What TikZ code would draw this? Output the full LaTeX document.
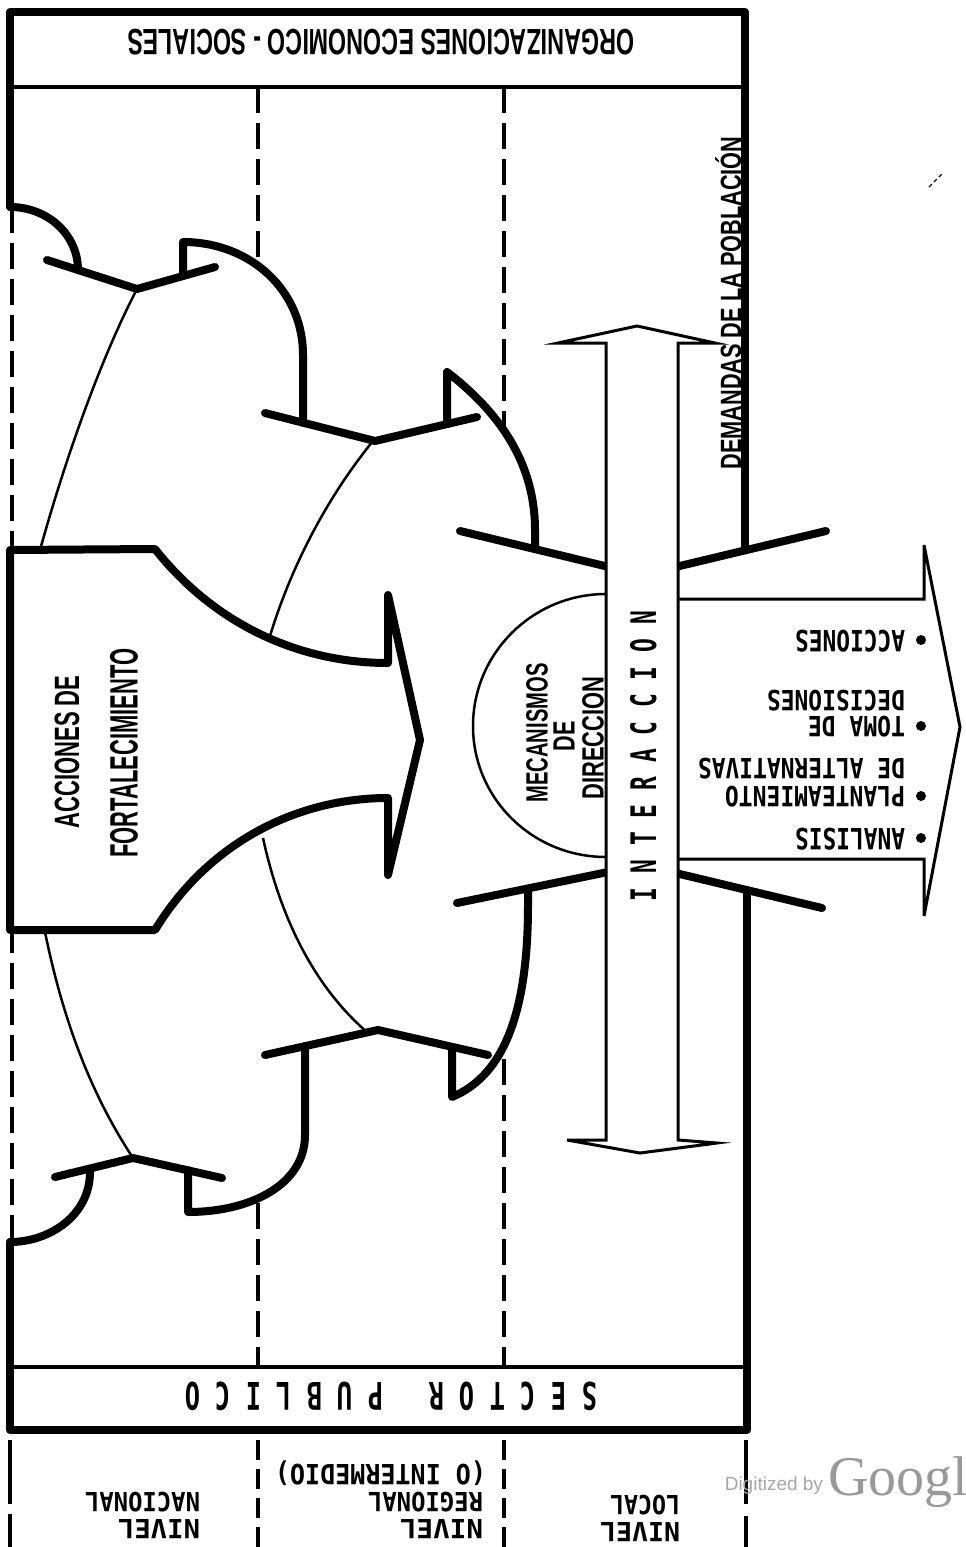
\documentclass[tikz,border=0pt]{standalone}
\usepackage{fontspec}
\usepackage{graphicx}
\newfontfamily\narrowsf{Liberation Sans}
\newfontfamily\typew{DejaVu Sans Mono}
\newfontfamily\wmsans{Liberation Sans}
\newfontfamily\wmserif{Liberation Serif}
% text box of given width and cap height
\newcommand{\capbox}[3]{\resizebox{#1}{#2}{\mbox{\smash{#3}\vphantom{X}}}}
\tikzset{
  heavy/.style={line width=8pt, line cap=round, line join=round},
  fineline/.style={line width=2.5pt},
  outl/.style={line width=3pt, line join=miter},
  divider/.style={line width=3.5pt, dash pattern=on 26pt off 10pt},
  txt/.style={inner sep=0pt, outer sep=0pt},
  dot/.style={circle, fill=black, inner sep=0pt, minimum size=10pt},
}
\begin{document}
\begin{tikzpicture}[x=1pt,y=-1pt]
\useasboundingbox (0,0) rectangle (966,1547);

% level dividers
\draw[divider] (258,87) -- (258,1367);
\draw[divider] (504,87) -- (504,1367);

% white body of the chain of curved arrows
\fill[white] (10,207) .. controls (48,207) and (78,235) .. (78,270) -- (137,289) -- (183,276)
  -- (183,242) .. controls (250,242) and (303,290) .. (303,355) -- (303,423) -- (375,441)
  -- (447,424) -- (447,372) .. controls (490,405) and (535,455) .. (535,530) -- (535,549)
  -- (642,575) -- (745,550) -- (747,890) -- (642,865) -- (528,889) -- (528,905)
  .. controls (528,1010) and (505,1075) .. (452,1097) -- (452,1047) -- (378,1030)
  -- (305,1046) -- (305,1135) .. controls (305,1185) and (250,1212) .. (188,1212)
  -- (188,1170) -- (133,1158) -- (90,1169) -- (90,1172) .. controls (90,1215) and (50,1242) .. (10,1242)
  -- cycle;

% left edge of the national level
\draw[divider] (12,207) -- (12,1242);

% outer frame and bands
\draw[heavy] (10,207) -- (10,12) -- (745,12) -- (745,550);
\draw[heavy] (10,1242) -- (10,1430) -- (747,1430) -- (747,890);
\draw[line width=3.5pt] (10,87) -- (745,87);
\draw[line width=3.5pt] (10,1367) -- (747,1367);

% upper chain of arrows
\draw[heavy] (10,207) .. controls (48,207) and (78,235) .. (78,270);
\draw[heavy] (47,260) -- (137,289) -- (215,267);
\draw[heavy] (183,276) -- (183,242) .. controls (250,242) and (303,290) .. (303,355) -- (303,423);
\draw[heavy] (265,413) -- (375,441) -- (477,417);
\draw[heavy] (447,424) -- (447,372) .. controls (490,405) and (535,455) .. (535,530) -- (535,549);
\draw[heavy] (460,531) -- (642,575) -- (826,531);

% lower chain of arrows
\draw[heavy] (457,903) -- (642,865) -- (822,908);
\draw[heavy] (528,889) -- (528,905) .. controls (528,1010) and (505,1075) .. (452,1097) -- (452,1047);
\draw[heavy] (265,1055) -- (378,1030) -- (488,1055);
\draw[heavy] (305,1046) -- (305,1135) .. controls (305,1185) and (250,1212) .. (188,1212) -- (188,1170);
\draw[heavy] (55,1177) -- (133,1158) -- (222,1178);
\draw[heavy] (90,1169) -- (90,1172) .. controls (90,1215) and (50,1242) .. (10,1242);

% strengthening actions
\draw[heavy] (10,550) -- (155,549) .. controls (215,625) and (300,663) .. (388,663)
  -- (388,595) -- (420,740) -- (388,875) -- (388,798)
  .. controls (300,798) and (210,840) .. (155,930) -- (10,930) -- cycle;

% thin ring lines
\draw[fineline] (40,550) .. controls (65,460) and (100,360) .. (137,289);
\draw[fineline] (270,636) .. controls (290,570) and (325,500) .. (373,441);
\draw[fineline] (45,932) .. controls (65,1030) and (95,1100) .. (133,1158);
\draw[fineline] (263,838) .. controls (282,925) and (318,990) .. (368,1033);

% output arrow
\draw[outl] (678,599) -- (924,599) -- (924,545) -- (960,727) -- (924,916) -- (924,859) -- (678,859);

% interaction double arrow
\draw[outl, fill=white] (606,343) -- (558,343) -- (637,326) -- (715,343) -- (678,343)
  -- (678,1140) -- (717,1143) -- (640,1153) -- (567,1140) -- (606,1140) -- cycle;

% steering mechanisms
\draw[fineline] (606,594) .. controls (532.5,594) and (473,653.4) .. (473,726)
  .. controls (473,798.6) and (532.5,857) .. (606,857);

% bottom level separators
\draw[line width=3.5pt, dash pattern=on 64pt off 10pt] (10,1440) -- (10,1547);
\draw[line width=3.5pt, dash pattern=on 20pt off 9pt] (258,1440) -- (258,1547);
\draw[line width=3.5pt, dash pattern=on 20pt off 9pt] (504,1440) -- (504,1547);
\draw[line width=3.5pt, dash pattern=on 64pt off 12pt] (746,1440) -- (746,1547);

% texts
\node[txt, rotate=180] (org) at (381,42) {\capbox{507pt}{25pt}{\narrowsf\bfseries ORGANIZACIONES ECONOMICO - SOCIALES}};
\node[txt, rotate=180] (sec) at (391,1395) {\capbox{412pt}{26pt}{\typew\bfseries S~E~C~T~O~R~~~P~U~B~L~I~C~O}};

\node[txt, rotate=180, anchor=west] (n1a) at (200,1528) {\capbox{82pt}{18pt}{\typew\bfseries NIVEL}};
\node[txt, rotate=180, anchor=west] (n1b) at (200,1501) {\capbox{115pt}{18pt}{\typew\bfseries NACIONAL}};
\node[txt, rotate=180, anchor=west] (n2a) at (483,1528) {\capbox{83pt}{18pt}{\typew\bfseries NIVEL}};
\node[txt, rotate=180, anchor=west] (n2b) at (483,1501) {\capbox{115pt}{18pt}{\typew\bfseries REGIONAL}};
\node[txt, rotate=180, anchor=west] (n2c) at (486,1474) {\capbox{211pt}{19pt}{\typew\bfseries (O INTERMEDIO)}};
\node[txt, rotate=180, anchor=west] (n3a) at (680,1531) {\capbox{80pt}{18pt}{\typew\bfseries NIVEL}};
\node[txt, rotate=180, anchor=west] (n3b) at (680,1504) {\capbox{70pt}{18pt}{\typew\bfseries LOCAL}};

\node[dot] (b1) at (921,640) {};
\node[dot] (b2) at (921,726) {};
\node[dot] (b3) at (921,796) {};
\node[dot] (b4) at (921,838) {};
\node[txt, rotate=180, anchor=west] (l1) at (905,640) {\capbox{110pt}{20pt}{\typew\bfseries ACCIONES}};
\node[txt, rotate=180, anchor=west] (l2a) at (905,726) {\capbox{97pt}{19pt}{\typew\bfseries TOMA DE}};
\node[txt, rotate=180, anchor=west] (l2b) at (905,700) {\capbox{138pt}{19pt}{\typew\bfseries DECISIONES}};
\node[txt, rotate=180, anchor=west] (l3a) at (905,796) {\capbox{180pt}{19pt}{\typew\bfseries PLANTEAMIENTO}};
\node[txt, rotate=180, anchor=west] (l3b) at (905,768) {\capbox{207pt}{19pt}{\typew\bfseries DE ALTERNATIVAS}};
\node[txt, rotate=180, anchor=west] (l4) at (905,838) {\capbox{110pt}{20pt}{\typew\bfseries ANALISIS}};

\node[txt, rotate=90] (dem) at (731,303) {\capbox{333pt}{20pt}{\narrowsf\bfseries DEMANDAS DE LA POBLACIÓN}};
\node[txt, rotate=90] (acc1) at (67,752) {\capbox{153pt}{24pt}{\narrowsf\bfseries ACCIONES DE}};
\node[txt, rotate=90] (acc2) at (124,753) {\capbox{209pt}{27pt}{\narrowsf\bfseries FORTALECIMIENTO}};
\node[txt, rotate=90] (mec1) at (537,733) {\capbox{139pt}{21pt}{\narrowsf\bfseries MECANISMOS}};
\node[txt, rotate=90] (mec2) at (564,736) {\capbox{30pt}{21pt}{\narrowsf\bfseries DE}};
\node[txt, rotate=90] (mec3) at (593,738) {\capbox{123pt}{21pt}{\narrowsf\bfseries DIRECCION}};
\node[txt, rotate=90] (inter) at (644,756) {\capbox{290pt}{24pt}{\typew\bfseries I~N~T~E~R~A~C~C~I~O~N}};

% scan watermark
\node[txt, anchor=base east, text=black!35, font=\wmsans\fontsize{19}{19}\selectfont] (wm1) at (823,1490) {Digitized by};
\node[txt, anchor=base west, text=black!40, font=\wmserif\fontsize{56}{56}\selectfont] (wm2) at (828,1495) {Google};
\draw[line width=1.2pt, dash pattern=on 4pt off 3pt] (929,187) -- (942,174);
\end{tikzpicture}
\end{document}
